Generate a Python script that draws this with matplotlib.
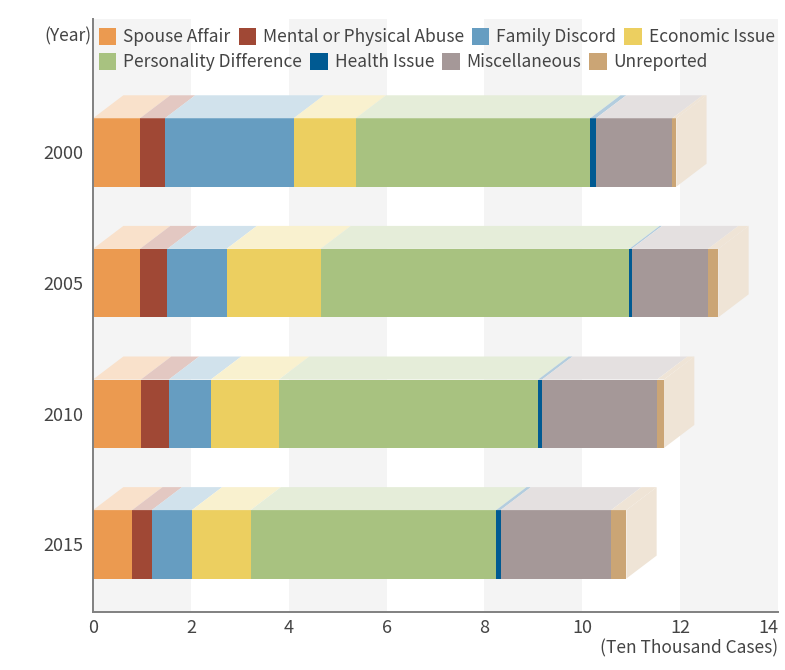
import matplotlib
matplotlib.use("Agg")
import matplotlib.pyplot as plt
import numpy as np
from matplotlib.patches import Polygon, Rectangle
from matplotlib.colors import to_rgb

plt.rcParams['font.family'] = ['Noto Sans CJK KR', 'DejaVu Sans']

# Divorce causes by year (ten thousand cases)
years = ['2000', '2005', '2010', '2015']
categories = ['Spouse Affair', 'Mental or Physical Abuse', 'Family Discord',
              'Economic Issue', 'Personality Difference', 'Health Issue',
              'Miscellaneous', 'Unreported']
spouse_affair = [0.96, 0.96, 0.98, 0.80]
abuse = [0.51, 0.56, 0.57, 0.40]
family_discord = [2.63, 1.21, 0.86, 0.82]
economic_issue = [1.27, 1.92, 1.39, 1.20]
personality = [4.79, 6.31, 5.30, 5.02]
health_issue = [0.12, 0.05, 0.08, 0.09]
miscellaneous = [1.56, 1.56, 2.35, 2.26]
unreported = [0.08, 0.21, 0.14, 0.31]
x_ticks = [0, 2, 4, 6, 8, 10, 12, 14]

series = [spouse_affair, abuse, family_discord, economic_issue,
          personality, health_issue, miscellaneous, unreported]
colors = ['#EB9A50', '#A04835', '#669DC1', '#ECCF60',
          '#A8C280', '#005A92', '#A59898', '#CBA575']
TEXT = '#444444'
BAND = '#F4F4F4'
AXIS = '#808080'

W, H = 785, 670


def light(c, a=0.3):
    r = np.array(to_rgb(c))
    return tuple(r * a + (1 - a))


def fig_xy(px, py):
    return px / W, 1 - py / H


fig = plt.figure(figsize=(W / 100, H / 100), dpi=100)
ax = fig.add_axes([93 / W, 58 / H, 685 / W, 593 / H])

ax.set_xlim(0, 14)
ax.set_ylim(3.518, -1.022)

# alternating vertical bands
for x0 in range(0, 14, 4):
    ax.axvspan(x0, x0 + 2, color=BAND, lw=0, zorder=0)

bar_h = 0.524
depth_x = 0.62
depth_y = 0.176

data = np.array(series)
lefts = np.vstack([np.zeros(len(years)), np.cumsum(data, axis=0)[:-1]])
ypos = np.arange(len(years))

for k, (vals, c) in enumerate(zip(series, colors)):
    ax.barh(ypos, vals, left=lefts[k], height=bar_h, color=c, lw=0, zorder=2)

# top and side faces giving the bars depth
for i in range(len(years)):
    yt = ypos[i] - bar_h / 2
    yb = ypos[i] + bar_h / 2
    for k, c in enumerate(colors):
        x0 = lefts[k][i]
        x1 = x0 + data[k][i]
        poly = Polygon([(x0, yt), (x1, yt), (x1 + depth_x, yt - depth_y),
                        (x0 + depth_x, yt - depth_y)], closed=True,
                       facecolor=light(c), edgecolor='none', zorder=2)
        ax.add_patch(poly)
    xe = lefts[-1][i] + data[-1][i]
    side = Polygon([(xe, yt), (xe + depth_x, yt - depth_y),
                    (xe + depth_x, yb - depth_y), (xe, yb)], closed=True,
                   facecolor=light(colors[-1]), edgecolor='none', zorder=2)
    ax.add_patch(side)

for s in ['top', 'right']:
    ax.spines[s].set_visible(False)
for s in ['left', 'bottom']:
    ax.spines[s].set_color(AXIS)
    ax.spines[s].set_linewidth(1.4)
    ax.spines[s].set_zorder(3)

ax.set_yticks(ypos)
ax.set_yticklabels(years)
ax.set_xticks(x_ticks)
ax.set_xticklabels([str(v) for v in x_ticks])
ax.tick_params(axis='both', length=0, labelsize=13, labelcolor=TEXT)
ax.tick_params(axis='y', pad=7)
ax.tick_params(axis='x', pad=5)
xlabels = ax.get_xticklabels()
xlabels[-1].set_horizontalalignment('right')
xlabels[-1].set_x(14)

fig.text(*fig_xy(778, 648), '(Ten Thousand Cases)', ha='right', va='center',
         fontsize=12.5, color=TEXT)
fig.text(*fig_xy(91, 36.7), '(Year)', ha='right', va='center',
         fontsize=12.5, color=TEXT)

# legend laid out in two flowing rows
renderer = fig.canvas.get_renderer()
rows = [categories[:4], categories[4:]]
row_y = [36.7, 61.7]
sq = 17.4
ci = 0
for r, names in enumerate(rows):
    x = 99
    for name in names:
        fig.add_artist(Rectangle(fig_xy(x, row_y[r] + sq / 2), sq / W, sq / H,
                                 transform=fig.transFigure,
                                 facecolor=colors[ci], edgecolor='none'))
        t = fig.text(*fig_xy(x + sq + 7, row_y[r]), name, ha='left',
                     va='center', fontsize=12.5, color=TEXT)
        wpx = t.get_window_extent(renderer).width
        x = x + sq + 7 + wpx + 8
        ci += 1

fig.savefig('out.png', dpi=100)
